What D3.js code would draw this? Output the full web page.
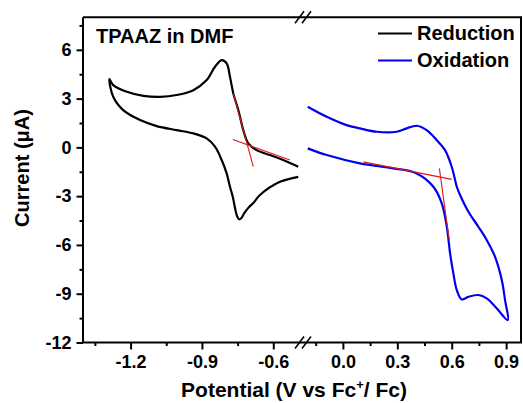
<!DOCTYPE html>
<html><head><meta charset="utf-8">
<script src="https://cdn.jsdelivr.net/npm/d3@7"></script>
<style>
html,body{margin:0;padding:0;background:#fff;}
text{font-family:"Liberation Sans",Arial,sans-serif;font-weight:bold;fill:#000;}
</style></head>
<body>
<svg id="c" width="523" height="403"></svg>
<script>
// Reduction CV (left axis segment): upper-right end -> tip -> lower-right end
const redPotential = [-0.495,-0.558,-0.614,-0.670,-0.705,-0.726,-0.747,-0.768,-0.782,-0.796,-0.817,-0.845,-0.880,-0.936,-1.006,-1.076,-1.146,-1.216,-1.273,-1.289,
  -1.273,-1.231,-1.160,-1.090,-1.006,-0.936,-0.880,-0.845,-0.817,-0.796,-0.782,-0.770,-0.762,-0.753,-0.744,-0.735,-0.722,-0.705,-0.684,-0.656,-0.572,-0.495];
const redCurrent = [-1.19,-0.78,-0.47,-0.17,0.25,1.06,2.29,3.32,4.34,5.17,5.37,4.96,4.14,3.52,3.22,3.11,3.17,3.42,3.83,4.20,
  3.11,2.29,1.68,1.31,1.06,0.86,0.55,0.04,-0.78,-1.60,-2.42,-3.05,-3.65,-4.20,-4.42,-4.36,-4.05,-3.72,-3.42,-2.93,-2.12,-1.81];
// Oxidation CV (right axis segment): upper-left end -> tip -> lower-left end
const oxPotential = [-0.194,-0.089,0.020,0.094,0.187,0.296,0.352,0.407,0.462,0.517,0.563,0.600,0.628,0.646,0.692,0.747,0.793,0.839,0.876,0.894,0.909,
  0.848,0.793,0.747,0.692,0.655,0.628,0.609,0.591,0.573,0.545,0.499,0.407,0.278,0.094,-0.089,-0.194];
const oxCurrent = [2.50,1.88,1.37,1.17,0.96,0.96,1.17,1.33,1.06,0.45,-0.17,-1.19,-2.42,-2.93,-3.96,-4.88,-5.70,-6.73,-8.16,-9.39,-10.62,
  -9.90,-9.29,-9.08,-9.19,-9.35,-8.78,-7.75,-6.52,-4.88,-3.44,-2.42,-1.60,-1.29,-0.98,-0.47,-0.06];
// Onset tangent lines [x1,y1,x2,y2] in data units
const redTangents = [[-0.770,0.49,-0.530,-0.78],[-0.768,3.32,-0.684,-1.19]];
const oxTangents = [[0.113,-0.89,0.600,-1.97],[0.532,-1.29,0.585,-5.60]];
// Ticks
const xLeftMajor = [-1.2,-0.9,-0.6], xLeftMinor = [-1.35,-1.05,-0.75];
const xRightMajor = [0.0,0.3,0.6,0.9], xRightMinor = [-0.15,0.15,0.45,0.75];
const yMajor = [-12,-9,-6,-3,0,3,6], yMinor = [-10.5,-7.5,-4.5,-1.5,1.5,4.5,7.5];
const legendItems = [{name:"Reduction",color:"#000000"},{name:"Oxidation",color:"#0000ee"}];

const svg = d3.select("#c");
const L=83, R=521, T=17.3, B=342.5, BRK=303;
const xL = d3.scaleLinear().domain([-1.4,-0.475]).range([L,BRK]);
const xR = d3.scaleLinear().domain([-0.22,0.982]).range([BRK,R]);
const y = d3.scaleLinear().domain([-12,8]).range([B,T]);

function styleAxis(g){ g.select(".domain").remove(); g.selectAll("line").attr("stroke","#000").attr("stroke-width",2);
  g.selectAll("text").attr("font-size",18).style("font-family","'Liberation Sans',Arial,sans-serif").style("font-weight","bold"); }
const fx = d=>d.toFixed(1);
svg.append("g").attr("transform",`translate(0,${B})`).call(d3.axisBottom(xL).tickValues(xLeftMajor).tickSize(7).tickPadding(6).tickFormat(fx)).call(styleAxis);
svg.append("g").attr("transform",`translate(0,${B})`).call(d3.axisBottom(xL).tickValues(xLeftMinor).tickSize(3.5).tickFormat("")).call(styleAxis);
svg.append("g").attr("transform",`translate(0,${B})`).call(d3.axisBottom(xR).tickValues(xRightMajor).tickSize(7).tickPadding(6).tickFormat(fx)).call(styleAxis);
svg.append("g").attr("transform",`translate(0,${B})`).call(d3.axisBottom(xR).tickValues(xRightMinor).tickSize(3.5).tickFormat("")).call(styleAxis);
svg.append("g").attr("transform",`translate(${L},0)`).call(d3.axisLeft(y).tickValues(yMajor).tickSize(6.5).tickPadding(5).tickFormat(d=>String(d))).call(styleAxis);
svg.append("g").attr("transform",`translate(${L},0)`).call(d3.axisLeft(y).tickValues(yMinor).tickSize(3.5).tickFormat("")).call(styleAxis);

// frame
const frame = svg.append("g").attr("stroke","#000").attr("stroke-width",2).attr("fill","none");
frame.append("path").attr("d",`M${L},${T}V${B}H${R}V${T}H${L}`);
// break marks
[T,B].forEach(yy=>{
  [-3.5,3.5].forEach(dx=>{
    svg.append("line").attr("x1",BRK+dx-4.5).attr("y1",yy+6).attr("x2",BRK+dx+4.5).attr("y2",yy-6)
      .attr("stroke","#000").attr("stroke-width",1.6);
  });
});

const lineL = d3.line().x(d=>xL(d[0])).y(d=>y(d[1])).curve(d3.curveCatmullRom.alpha(0.5));
const lineR = d3.line().x(d=>xR(d[0])).y(d=>y(d[1])).curve(d3.curveCatmullRom.alpha(0.5));
svg.append("path").datum(redPotential.map((v,i)=>[v,redCurrent[i]])).attr("d",lineL)
  .attr("fill","none").attr("stroke","#000").attr("stroke-width",2.2);
svg.append("path").datum(oxPotential.map((v,i)=>[v,oxCurrent[i]])).attr("d",lineR)
  .attr("fill","none").attr("stroke","#0000ee").attr("stroke-width",2.2);
redTangents.forEach(t=>svg.append("line").attr("x1",xL(t[0])).attr("y1",y(t[1])).attr("x2",xL(t[2])).attr("y2",y(t[3]))
  .attr("stroke","#e01818").attr("stroke-width",1.1));
oxTangents.forEach(t=>svg.append("line").attr("x1",xR(t[0])).attr("y1",y(t[1])).attr("x2",xR(t[2])).attr("y2",y(t[3]))
  .attr("stroke","#e01818").attr("stroke-width",1.1));

// title inside plot
svg.append("text").attr("x",96).attr("y",42.5).attr("font-size",20).text("TPAAZ in DMF");
// legend
legendItems.forEach((it,i)=>{
  const yy = 33.5 + i*27;
  svg.append("line").attr("x1",378).attr("x2",412).attr("y1",yy).attr("y2",yy).attr("stroke",it.color).attr("stroke-width",2.2);
  svg.append("text").attr("x",417).attr("y",yy+6.8).attr("font-size",20).text(it.name);
});
// axis titles
const xt = svg.append("text").attr("x",294).attr("y",396.5).attr("text-anchor","middle").attr("font-size",21);
xt.append("tspan").text("Potential (V vs Fc");
xt.append("tspan").attr("font-size",13).attr("dy",-8).text("+");
xt.append("tspan").attr("dy",8).text("/ Fc)");
svg.append("text").attr("transform","translate(29,168) rotate(-90)").attr("text-anchor","middle").attr("font-size",20).text("Current (μA)");
</script>
</body></html>
